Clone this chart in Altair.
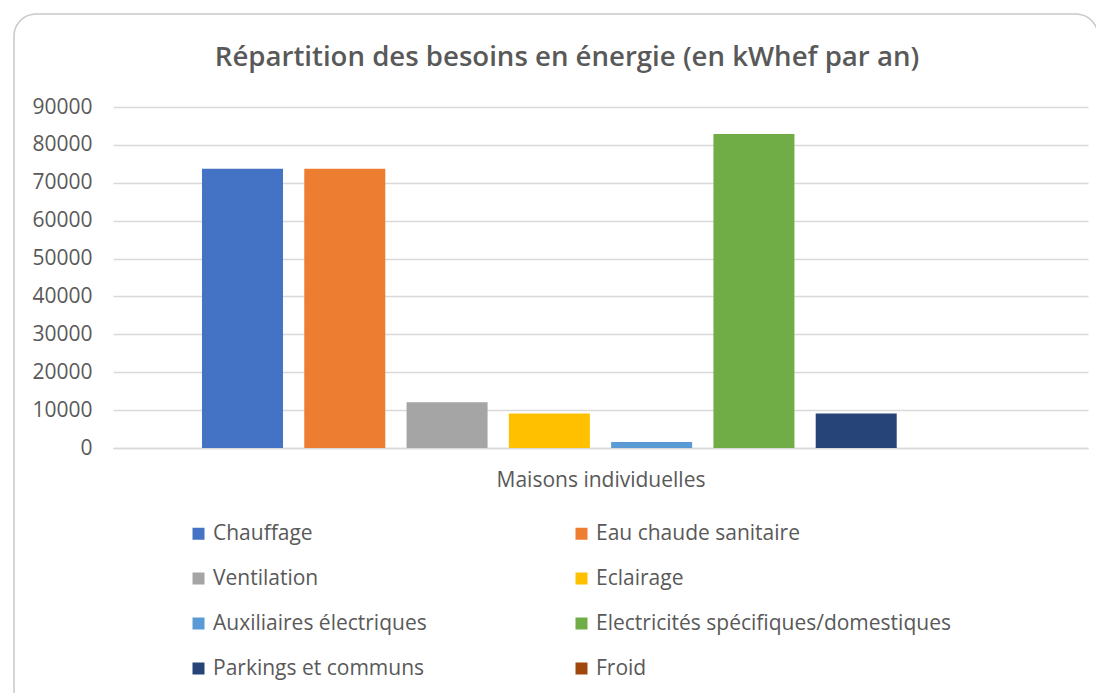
import altair as alt
import pandas as pd

categories = ["Chauffage", "Eau chaude sanitaire", "Ventilation", "Eclairage",
              "Auxiliaires électriques", "Electricités spécifiques/domestiques",
              "Parkings et communs", "Froid"]
values = [73700, 73700, 12100, 9100, 1600, 82900, 9100, 0]
colors = ["#4472C4", "#ED7D31", "#A5A5A5", "#FFC000", "#5B9BD5", "#70AD47", "#264478", "#9E480E"]
group_label = "Maisons individuelles"
title_text = "Répartition des besoins en énergie (en kWhef par an)"
y_ticks = [0, 10000, 20000, 30000, 40000, 50000, 60000, 70000, 80000, 90000]

df = pd.DataFrame({"usage": categories, "kwh": values})
FONT = "Open Sans"
TXT = "#595959"

frame = alt.Chart(alt.Data(values=[{"a": 1}])).mark_rect(
    fill="white", fillOpacity=0, stroke="#c8c8c8", strokeWidth=1.5, cornerRadius=22
).encode(x=alt.value(-99), x2=alt.value(985), y=alt.value(-93), y2=alt.value(620))

title = alt.Chart(alt.Data(values=[{"t": title_text}])).mark_text(
    font=FONT, fontSize=27.6, fontWeight=600, color=TXT, align="center", baseline="middle"
).encode(text="t:N", x=alt.value(454), y=alt.value(-49))

bars = alt.Chart(df).mark_bar().encode(
    x=alt.X("usage:N", sort=categories,
            scale=alt.Scale(paddingInner=0.208, paddingOuter=0.87),
            axis=alt.Axis(labels=False, ticks=False, title=group_label,
                          titleFont=FONT, titleFontSize=21, titleFontWeight="normal",
                          titleColor=TXT, titlePadding=21, domainColor="#d9d9d9",
                          domainWidth=1.5)),
    y=alt.Y("kwh:Q", scale=alt.Scale(domain=[0, 90000]),
            axis=alt.Axis(values=y_ticks, format="d", title=None, ticks=False, domain=False,
                          labelFont=FONT, labelFontSize=21, labelColor=TXT, labelPadding=21,
                          gridColor="#d9d9d9", gridWidth=1.5)),
    color=alt.Color("usage:N", sort=categories,
                    scale=alt.Scale(domain=categories, range=colors),
                    legend=alt.Legend(orient="none", legendX=75, legendY=416, columns=2,
                                      direction="horizontal",
                                      title=None, symbolType="square", symbolSize=144,
                                      symbolStrokeWidth=0, labelFont=FONT, labelFontSize=21,
                                      labelColor=TXT, columnPadding=144, rowPadding=23,
                                      labelOffset=4, labelLimit=500)),
)

chart = alt.layer(frame, title, bars).properties(
    width=975, height=341,
    autosize=alt.AutoSizeParams(type="none"),
    padding={"left": 105, "top": 99, "right": 8, "bottom": 250},
).configure_view(stroke=None)

chart.save("out.html", embed_options={"renderer": "svg", "actions": False})
